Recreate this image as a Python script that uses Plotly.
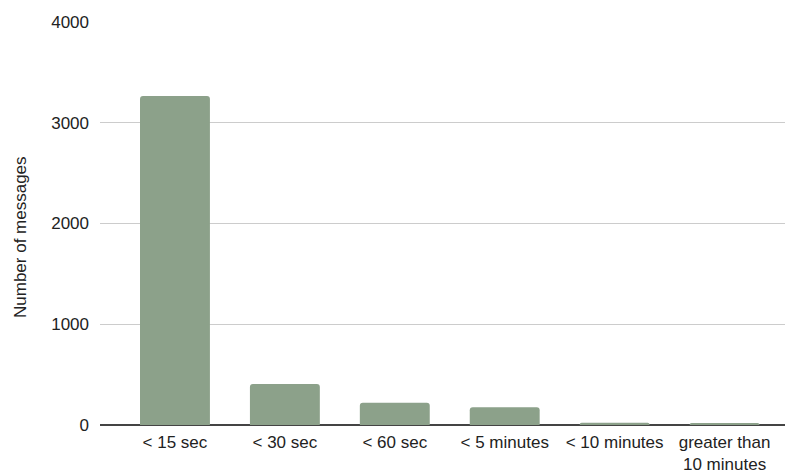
import plotly.graph_objects as go

# Response-time buckets and message counts
categories = ["< 15 sec", "< 30 sec", "< 60 sec", "< 5 minutes", "< 10 minutes",
              "greater than<br>10 minutes"]
message_counts = [3265, 408, 220, 175, 22, 20]

y_ticks = [0, 1000, 2000, 3000, 4000]

BAR_COLOR = "#8ca18a"
FONT = "Liberation Sans, Arial, sans-serif"

fig = go.Figure(
    go.Bar(
        x=categories,
        y=message_counts,
        marker=dict(color=BAR_COLOR, line=dict(width=0)),
        hoverinfo="x+y",
    )
)

fig.update_layout(
    width=785,
    height=474,
    margin=dict(l=100, r=0, t=22, b=49),
    paper_bgcolor="white",
    plot_bgcolor="white",
    bargap=0.364,
    barcornerradius=3,
    showlegend=False,
    font=dict(family=FONT, size=17, color="#222222"),
)

fig.update_xaxes(
    range=[-0.682, 5.55],
    showgrid=False,
    showline=False,
    ticks="",
    ticklabelstandoff=5,
    automargin=False,
    tickfont=dict(size=17, color="#222222"),
)

fig.update_yaxes(
    range=[0, 4000],
    tickvals=y_ticks,
    ticktext=[str(v) for v in y_ticks],
    showgrid=True,
    gridcolor="#cccccc",
    gridwidth=1,
    zeroline=True,
    zerolinecolor="#444444",
    zerolinewidth=1.5,
    showline=False,
    ticks="",
    ticklabelstandoff=10,
    automargin=False,
    tickfont=dict(size=17, color="#222222"),
)

# Vertical axis title, centred on the full figure height
fig.add_annotation(
    text="Number of messages",
    xref="paper", yref="paper",
    x=-0.1168, y=0.4665,
    xanchor="center", yanchor="middle",
    textangle=-90,
    showarrow=False,
    font=dict(size=17, color="#222222", family=FONT),
)

fig.write_html("out.html")
